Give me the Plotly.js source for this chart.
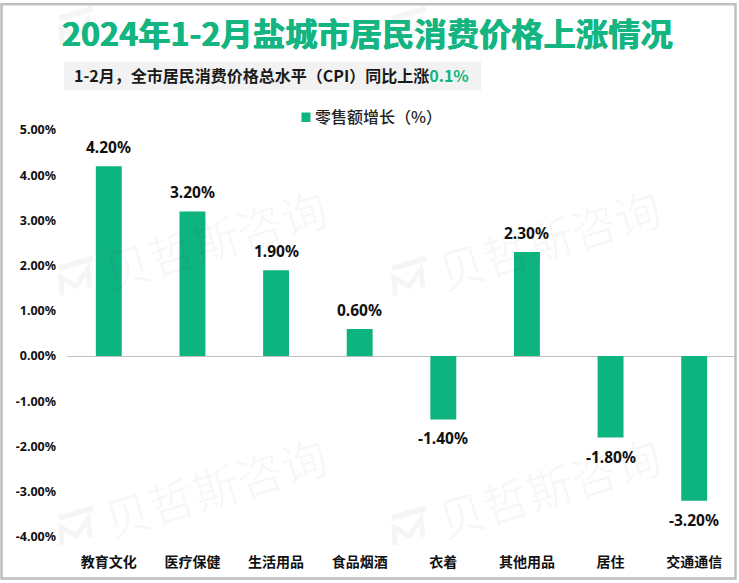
<!DOCTYPE html>
<html><head><meta charset="utf-8">
<script src="https://cdn.plot.ly/plotly-3.0.1.min.js"></script>
<style>html,body{margin:0;padding:0;background:#fff}</style></head>
<body><div id="c" style="width:739px;height:583px"></div>
<script>
const categories=['教育文化','医疗保健','生活用品','食品烟酒','衣着','其他用品','居住','交通通信'];
const values=[4.2,3.2,1.9,0.6,-1.4,2.3,-1.8,-3.2];
const valueLabels=['4.20%','3.20%','1.90%','0.60%','-1.40%','2.30%','-1.80%','-3.20%'];
const yTicks=[5,4,3,2,1,0,-1,-2,-3,-4];
const yTickLabels=['5.00%','4.00%','3.00%','2.00%','1.00%','0.00%','-1.00%','-2.00%','-3.00%','-4.00%'];
const seriesName='零售额增长（%）';
const titleText='2024年1-2月盐城市居民消费价格上涨情况';
const subtitleText='1-2月，全市居民消费价格总水平（CPI）同比上涨<span style="color:#10B47F">0.1%</span>';
const watermarkText='贝哲斯咨询';
const watermarkCentres=[[215,238],[549,238],[215,486],[549,486]];
const logoCentres=[[75,27],[408,27],[75,277],[408,277],[75,527],[408,527]];
const F='"Noto Sans CJK SC","Liberation Sans",sans-serif';
const D='"Noto Sans","Liberation Sans",sans-serif';
const green='#0EB47F';
const W=739,H=583,PW=669,PH=407.5,BOTTOM=537,LEFT=67;
const px=x=>(x-LEFT)/PW, py=y=>(BOTTOM-y)/PH;
const annotations=[];
watermarkCentres.forEach(p=>annotations.push({text:watermarkText,xref:'paper',yref:'paper',x:px(p[0]),y:py(p[1]),xanchor:'center',yanchor:'middle',showarrow:false,textangle:-17,font:{family:F,size:46,color:'rgba(0,0,0,0.03)',weight:400}}));
annotations.push({text:titleText,xref:'paper',yref:'paper',x:px(367.5),y:py(31),xanchor:'center',yanchor:'middle',showarrow:false,font:{family:F,size:32.3,color:'#15B582',weight:700,shadow:'0.5px 0 0 #15B582,-0.5px 0 0 #15B582'}});
annotations.push({text:subtitleText,xref:'paper',yref:'paper',x:px(72),y:py(74.5),xanchor:'left',yanchor:'middle',showarrow:false,font:{family:F,size:16,color:'#1a1a1a',weight:700}});
annotations.push({text:seriesName,xref:'paper',yref:'paper',x:px(313),y:py(115),xanchor:'left',yanchor:'middle',showarrow:false,font:{family:F,size:16,color:'#222',weight:500}});
categories.forEach((c,i)=>annotations.push({text:valueLabels[i],xref:'x',yref:'y',x:c,y:values[i],yshift:values[i]>=0?19:-19,xanchor:'center',yanchor:'middle',showarrow:false,font:{family:D,size:15.5,color:'#111',weight:700}}));
const logoPath=(c,pts)=>pts.map((q,i)=>(i?'L':'M')+px(c[0]+q[0])+','+py(c[1]+q[1])).join(' ');
const logoShapes=[];
logoCentres.forEach(c=>{
 logoShapes.push({type:'path',xref:'paper',yref:'paper',layer:'below',path:logoPath(c,[[-16,-9],[18,-19]]),line:{color:'rgba(0,0,0,0.04)',width:6}});
 logoShapes.push({type:'path',xref:'paper',yref:'paper',layer:'below',path:logoPath(c,[[-13,18],[-14,0],[1,9],[13,-8],[15,10]]),line:{color:'rgba(0,0,0,0.04)',width:5}});
});
const layout={width:W,height:H,margin:{l:LEFT,r:3,t:129.5,b:46},paper_bgcolor:'#fff',plot_bgcolor:'rgba(0,0,0,0)',showlegend:false,
 bargap:0.69,
 xaxis:{type:'category',tickmode:'array',tickvals:categories,ticktext:categories,showgrid:false,zeroline:false,showline:false,ticks:'',tickfont:{family:F,size:14,color:'#111',weight:700},ticklabelstandoff:15},
 yaxis:{range:[-4,5],tickmode:'array',tickvals:yTicks,ticktext:yTickLabels,showgrid:false,zeroline:true,zerolinecolor:'#bfbfbf',zerolinewidth:1,showline:false,ticks:'',ticklabelstandoff:10,tickfont:{family:D,size:12.5,color:'#111',weight:700}},
 shapes:[
  {type:'rect',xref:'paper',yref:'paper',x0:px(1.5),x1:px(735.5),y0:py(578.5),y1:py(3.5),line:{color:'#bfbfbf',width:2.5},fillcolor:'rgba(0,0,0,0)',layer:'below'},
  {type:'rect',xref:'paper',yref:'paper',x0:px(64),x1:px(481),y0:py(90),y1:py(61),line:{width:0},fillcolor:'#F2F2F2',layer:'below'},
  {type:'rect',xref:'paper',yref:'paper',x0:px(301.5),x1:px(310.5),y0:py(121.5),y1:py(112),line:{width:0},fillcolor:green}
 ].concat(logoShapes),
 annotations,font:{family:F}};
const trace={type:'bar',x:categories,y:values,name:seriesName,marker:{color:green},hoverinfo:'x+y'};
Plotly.newPlot('c',[trace],layout,{displayModeBar:false});
</script></body></html>
